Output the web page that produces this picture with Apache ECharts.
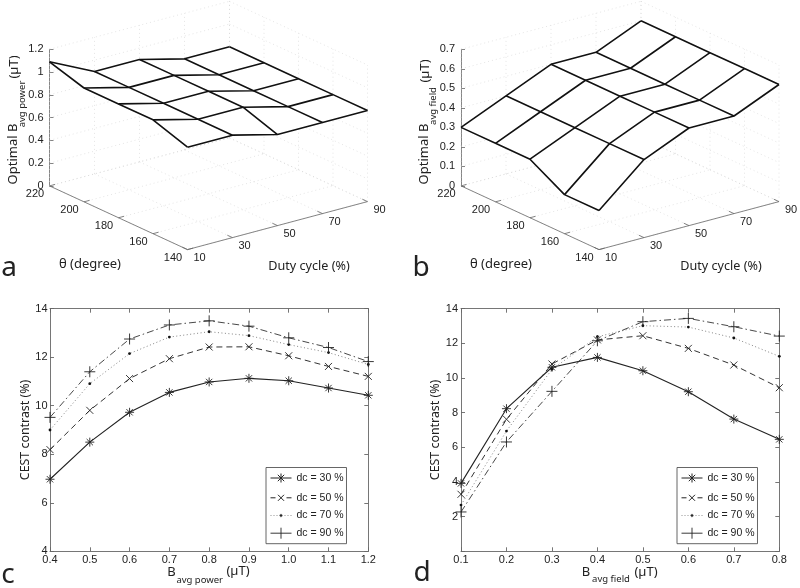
<!DOCTYPE html>
<html><head><meta charset="utf-8">
<style>html,body{margin:0;padding:0;background:#fff}#c{width:800px;height:588px}</style>
<script src="https://cdn.jsdelivr.net/npm/echarts@6/dist/echarts.min.js"></script>
</head><body><div id="c"></div>
<script>
// ---- data ----
const thetaTicks = [220, 200, 180, 160, 140];
const dutyTicks = [10, 30, 50, 70, 90];
const zTicksA = [0, 0.2, 0.4, 0.6, 0.8, 1, 1.2];
const zTicksB = [0, 0.1, 0.2, 0.3, 0.4, 0.5, 0.6, 0.7];
const optimalPower220 = [1.09, 0.9, 0.9, 0.8, 0.8];
const optimalPower200 = [1.0, 0.9, 0.9, 0.8, 0.8];
const optimalPower180 = [1.0, 0.9, 0.9, 0.8, 0.8];
const optimalPower160 = [1.0, 0.9, 0.9, 0.8, 0.8];
const optimalPower140 = [0.9, 0.9, 0.8, 0.8, 0.8];
const optimalField220 = [0.3, 0.4, 0.5, 0.5, 0.6];
const optimalField200 = [0.3, 0.4, 0.5, 0.5, 0.6];
const optimalField180 = [0.3, 0.4, 0.5, 0.5, 0.6];
const optimalField160 = [0.2, 0.4, 0.5, 0.5, 0.6];
const optimalField140 = [0.2, 0.4, 0.5, 0.5, 0.6];

const powerX = [0.4, 0.5, 0.6, 0.7, 0.8, 0.9, 1.0, 1.1, 1.2];
const powerDc30 = [6.97, 8.5, 9.73, 10.55, 10.98, 11.13, 11.03, 10.73, 10.43];
const powerDc50 = [8.19, 9.81, 11.12, 11.94, 12.42, 12.43, 12.06, 11.62, 11.21];
const powerDc70 = [9.0, 10.91, 12.15, 12.83, 13.05, 12.89, 12.52, 12.19, 11.7];
const powerDc90 = [9.52, 11.4, 12.75, 13.33, 13.5, 13.28, 12.8, 12.4, 11.82];

const fieldX = [0.1, 0.2, 0.3, 0.4, 0.5, 0.6, 0.7, 0.8];
const fieldDc30 = [3.92, 8.23, 10.62, 11.19, 10.42, 9.21, 7.63, 6.46];
const fieldDc50 = [3.29, 7.62, 10.81, 12.2, 12.44, 11.71, 10.75, 9.44];
const fieldDc70 = [2.67, 6.94, 10.5, 12.38, 13.02, 12.94, 12.31, 11.25];
const fieldDc90 = [2.27, 6.31, 9.23, 12.15, 13.25, 13.44, 12.96, 12.42];

const seriesNames = ['dc = 30 %', 'dc = 50 %', 'dc = 70 %', 'dc = 90 %'];

// ---- styles ----
const INK = '#222';
const AXIS = '#666';
const TICK_FONT = 'Liberation Sans';
const TITLE_FONT = 'Noto Sans';

const panels3d = [
  { idx: 0, left: 49.5, zMax: 1.2, zInterval: 0.2, ticks: zTicksA,
    rows: [optimalPower220, optimalPower200, optimalPower180, optimalPower160, optimalPower140],
    ux: 138, vx: 180 },
  { idx: 1, left: 461, zMax: 0.7, zInterval: 0.1, ticks: zTicksB,
    rows: [optimalField220, optimalField200, optimalField180, optimalField160, optimalField140],
    ux: 138, vx: 180 }
];
const TOP3D = 49.3, H3D = 136.6, UY = 63.7, VY = -48;

function projector(p) {
  const k = H3D / p.zMax;
  return (theta, dc, z) => {
    const u = (220 - theta) / 80, v = (dc - 10) / 80;
    return [p.ux * u + p.vx * v, z - (UY * u + VY * v) / k];
  };
}

const grid = [], xAxis = [], yAxis = [], series = [];

function segSeries(p, segs, style, z) {
  series.push({
    type: 'custom', xAxisIndex: p.idx, yAxisIndex: p.idx, silent: true, z,
    data: segs, animation: false, encode: { x: [0, 2], y: [1, 3] },
    renderItem(params, api) {
      const a = api.coord([api.value(0), api.value(1)]);
      const b = api.coord([api.value(2), api.value(3)]);
      return { type: 'line', shape: { x1: a[0], y1: a[1], x2: b[0], y2: b[1] }, style };
    }
  });
}

panels3d.forEach(p => {
  const P = projector(p);
  grid.push({ left: p.left, top: TOP3D, width: 320, height: H3D });
  xAxis.push({ gridIndex: p.idx, type: 'value', min: 0, max: 320, show: false });
  yAxis.push({
    gridIndex: p.idx, type: 'value', min: 0, max: p.zMax, interval: p.zInterval,
    axisLine: { show: true, lineStyle: { color: AXIS, width: 0.8 } },
    axisTick: { show: true, inside: true, length: 4, lineStyle: { color: AXIS, width: 0.8 } },
    axisLabel: { color: INK, fontFamily: TICK_FONT, fontSize: 11, margin: 6 },
    splitLine: { show: false }
  });
  const seg = (a, b) => a.concat(b);
  const th0 = thetaTicks[0], th1 = thetaTicks[4], d0 = dutyTicks[0], d1 = dutyTicks[4];
  // dotted grid on floor and the two back walls
  const gridSegs = [];
  thetaTicks.forEach(t => {
    gridSegs.push(seg(P(t, d0, 0), P(t, d1, 0)));
    gridSegs.push(seg(P(t, d1, 0), P(t, d1, p.zMax)));
  });
  dutyTicks.forEach(d => {
    gridSegs.push(seg(P(th0, d, 0), P(th1, d, 0)));
    gridSegs.push(seg(P(th0, d, 0), P(th0, d, p.zMax)));
  });
  p.ticks.forEach(z => {
    gridSegs.push(seg(P(th0, d0, z), P(th0, d1, z)));
    gridSegs.push(seg(P(th0, d1, z), P(th1, d1, z)));
  });
  segSeries(p, gridSegs, { stroke: '#d4d4d4', lineWidth: 0.6, lineDash: [1, 3] }, 1);

  // floor axes with ticks
  const axisSegs = [seg(P(th0, d0, 0), P(th1, d0, 0)), seg(P(th1, d0, 0), P(th1, d1, 0))];
  thetaTicks.forEach(t => axisSegs.push(seg(P(t, d0, 0), P(t, d0 + 2.5, 0))));
  dutyTicks.forEach(d => axisSegs.push(seg(P(th1, d, 0), P(th1 + 3, d, 0))));
  segSeries(p, axisSegs, { stroke: AXIS, lineWidth: 0.8 }, 2);

  // floor tick labels
  const floorLabels = [];
  thetaTicks.forEach(t => floorLabels.push([...P(t, d0, 0), t, -14.5, 8]));
  dutyTicks.forEach(d => floorLabels.push([...P(th1, d, 0), d, 12, 8.5]));
  series.push({
    type: 'custom', xAxisIndex: p.idx, yAxisIndex: p.idx, silent: true, z: 3, animation: false,
    data: floorLabels, encode: { x: 0, y: 1 },
    renderItem(params, api) {
      const a = api.coord([api.value(0), api.value(1)]);
      return { type: 'text', x: a[0] + api.value(3), y: a[1] + api.value(4),
        style: { text: String(api.value(2)), fill: INK, font: '11px ' + TICK_FONT, align: 'center', verticalAlign: 'middle' } };
    }
  });

  // white faces of the mesh
  const cells = [];
  for (let i = 0; i < 4; i++) for (let j = 0; j < 4; j++) {
    cells.push([
      ...P(thetaTicks[i], dutyTicks[j], p.rows[i][j]),
      ...P(thetaTicks[i], dutyTicks[j + 1], p.rows[i][j + 1]),
      ...P(thetaTicks[i + 1], dutyTicks[j + 1], p.rows[i + 1][j + 1]),
      ...P(thetaTicks[i + 1], dutyTicks[j], p.rows[i + 1][j])
    ]);
  }
  series.push({
    type: 'custom', xAxisIndex: p.idx, yAxisIndex: p.idx, silent: true, z: 4, animation: false,
    data: cells, encode: { x: [0, 2, 4, 6], y: [1, 3, 5, 7] },
    renderItem(params, api) {
      const pts = [0, 2, 4, 6].map(n => api.coord([api.value(n), api.value(n + 1)]));
      return { type: 'polygon', shape: { points: pts }, style: { fill: '#fff', stroke: 'none' } };
    }
  });

  // mesh lines
  const meshLine = data => series.push({
    type: 'line', xAxisIndex: p.idx, yAxisIndex: p.idx, data, symbol: 'none', clip: false, silent: true,
    z: 5, animation: false, lineStyle: { color: '#111', width: 1.6 }
  });
  thetaTicks.forEach((t, i) => meshLine(dutyTicks.map((d, j) => P(t, d, p.rows[i][j]))));
  dutyTicks.forEach((d, j) => meshLine(thetaTicks.map((t, i) => P(t, d, p.rows[i][j]))));
});

// ---- 2D panels ----
const STAR = 'M5 0L5 10M0 5L10 5M1.5 1.5L8.5 8.5M1.5 8.5L8.5 1.5';
const CROSS = 'M0 0L10 10M0 10L10 0';
const PLUS = 'M5 0L5 10M0 5L10 5';
// legend keys: a 21x14 box holding the dash pattern and the marker
const KEY_BOX = 'path://M0 0L0 0M21 14L21 14';
const markers = [
  { symbol: 'path://' + STAR, size: 9, dash: 'solid', width: 1.1, color: '#222',
    icon: KEY_BOX + 'M0 7L21 7M10.5 2.5L10.5 11.5M7.3 3.8L13.7 10.2M7.3 10.2L13.7 3.8',
    key: { color: 'none', borderColor: '#222', borderWidth: 1 } },
  { symbol: 'path://' + CROSS, size: 7, dash: [6, 4], width: 1, color: '#333',
    icon: KEY_BOX + 'M0 7L5 7M16 7L21 7M7.5 4L13.5 10M7.5 10L13.5 4',
    key: { color: 'none', borderColor: '#222', borderWidth: 1 } },
  { symbol: 'circle', size: 2.8, dash: [1, 2.5], width: 0.9, color: '#777',
    icon: KEY_BOX + 'M0 7L1 7M3 7L4 7M6 7L7 7M14 7L15 7M17 7L18 7M20 7L21 7M10 5.8L11 5.8L11.7 6.5L11.7 7.5L11 8.2L10 8.2L9.3 7.5L9.3 6.5Z',
    key: { color: '#111', borderColor: '#777', borderWidth: 0.8 } },
  { symbol: 'path://' + PLUS, size: 11, dash: [7, 3, 1.5, 3], width: 0.9, color: '#333',
    icon: KEY_BOX + 'M0 7L21 7M10.5 1.5L10.5 12.5',
    key: { color: 'none', borderColor: '#222', borderWidth: 0.9 } }
];
function panel2d(idx, left, xs, ys, xMin, xMax, yMin, yLabel, labelMargin) {
  const top = 308.7, w = 318.3, h = 242.6;
  grid.push({ left, top, width: w, height: h });
  const g = grid.length - 1;
  const lineS = { color: AXIS, width: 0.9 };
  xAxis.push({
    gridIndex: g, type: 'value', min: xMin, max: xMax, interval: 0.1, position: 'bottom',
    axisLine: { show: true, onZero: false, lineStyle: lineS },
    axisTick: { show: true, inside: true, length: 4, lineStyle: lineS },
    axisLabel: { color: INK, fontFamily: TICK_FONT, fontSize: 11, margin: 3, formatter: v => v.toFixed(1) },
    splitLine: { show: false }
  });
  yAxis.push({
    gridIndex: g, type: 'value', min: yMin, max: 14, interval: 2, position: 'left',
    axisLine: { show: true, onZero: false, lineStyle: lineS },
    axisTick: { show: true, inside: true, length: 4, lineStyle: lineS },
    axisLabel: { color: INK, fontFamily: TICK_FONT, fontSize: 11, margin: labelMargin, formatter: yLabel },
    splitLine: { show: false },
    name: 'CEST contrast (%)', nameLocation: 'middle', nameGap: 4,
    nameTextStyle: { color: INK, fontFamily: TITLE_FONT, fontSize: 12.4 }
  });
  ys.forEach((vals, s) => {
    const m = markers[s];
    series.push({
      type: 'line', name: seriesNames[s], xAxisIndex: idx, yAxisIndex: idx,
      data: xs.map((x, i) => [x, vals[i]]), clip: false, animation: false, silent: true, z: 5,
      symbol: m.symbol, symbolSize: m.size, showAllSymbol: true,
      lineStyle: { color: m.color, width: m.width, type: m.dash },
      itemStyle: m.symbol === 'circle' ? { color: '#111', borderWidth: 0 } : { color: 'none', borderColor: '#222', borderWidth: 0.9 }
    });
  });
}
panel2d(2, 50, powerX, [powerDc30, powerDc50, powerDc70, powerDc90], 0.4, 1.2, 4, v => String(v), 2.5);
panel2d(3, 461, fieldX, [fieldDc30, fieldDc50, fieldDc70, fieldDc90], 0.1, 0.8, 0, v => (v === 0 ? '' : String(v)), 3);

// mirrored box axes (top / right) for the two 2D panels
[2, 3].forEach(g => {
  const xa = xAxis[g], ya = yAxis[g];
  xAxis.push({ gridIndex: g, type: 'value', min: xa.min, max: xa.max, interval: 0.1, position: 'top',
    axisLine: xa.axisLine, axisTick: xa.axisTick, axisLabel: { show: false }, splitLine: { show: false } });
  yAxis.push({ gridIndex: g, type: 'value', min: ya.min, max: ya.max, interval: 2, position: 'right',
    axisLine: ya.axisLine, axisTick: ya.axisTick, axisLabel: { show: false }, splitLine: { show: false } });
});

function legendAt(left, top) {
  return {
    orient: 'vertical', left, top, selectedMode: false, symbolKeepAspect: false,
    data: seriesNames.map((name, s) => ({ name, icon: markers[s].icon, itemStyle: markers[s].key })),
    backgroundColor: '#fff', borderColor: '#555', borderWidth: 0.9, borderRadius: 0,
    padding: [1, 3, 1, 2], itemWidth: 21, itemHeight: 14, itemGap: 0.8, z: 20,
    textStyle: { color: INK, fontFamily: TICK_FONT, fontSize: 10.5 }
  };
}

// ---- free text ----
function T(text, x, y, size, o) {
  o = o || {};
  return {
    type: 'text', x, y, rotation: o.rot ? Math.PI / 2 : 0, z: 30, silent: true,
    style: { text, x: 0, y: 0, fill: INK, font: size + 'px ' + (o.font || TITLE_FONT),
      align: o.align || 'center', verticalAlign: 'middle' }
  };
}
const graphicEls = [
  T('a', 9, 268, 28), T('b', 421, 268, 28), T('c', 8, 575, 28), T('d', 422, 573, 28),
  T('θ (degree)', 90, 264, 13), T('θ (degree)', 501, 264, 13),
  T('Duty cycle (%)', 309, 266, 12.6), T('Duty cycle (%)', 721, 266, 12.6),
  T('Optimal B', 13, 154, 13, { rot: 1 }), T('avg power', 22, 104, 9.5, { rot: 1 }), T('(µT)', 14, 67, 13, { rot: 1 }),
  T('Optimal B', 424, 154, 13, { rot: 1 }), T('avg field', 433, 106, 9.5, { rot: 1 }), T('(µT)', 425, 71, 13, { rot: 1 }),
  T('B', 171.5, 572, 13), T('avg power', 199.7, 580, 9.5), T('(µT)', 238, 571, 13),
  T('B', 586, 572, 13), T('avg field', 611, 579, 9.5), T('(µT)', 646, 572, 13)
];

const chart = echarts.init(document.getElementById('c'), null, { renderer: 'canvas' });
chart.setOption({
  animation: false, backgroundColor: '#fff',
  grid, xAxis, yAxis, series,
  legend: [legendAt(266, 467.5), legendAt(677, 467.5)],
  graphic: graphicEls
});
</script></body></html>
